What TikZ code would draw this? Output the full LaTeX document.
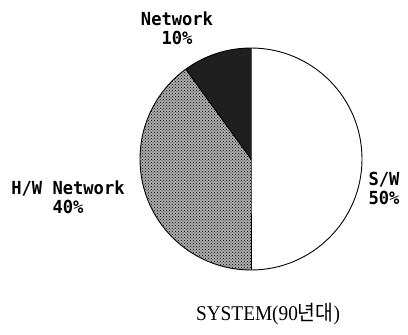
\documentclass[tikz,border=0pt]{standalone}
\usepackage{fontspec}
\setmainfont{Liberation Serif}
\newfontfamily\labelfont{DejaVu Sans Mono}
\newfontfamily\krfont{Noto Sans CJK KR}
\usetikzlibrary{patterns}
\tikzset{
  slicelabel/.style={font=\labelfont\bfseries\fontsize{18}{21}\selectfont, align=center, inner sep=0pt},
  titlelabel/.style={font=\fontsize{21}{25}\selectfont, inner sep=0pt},
  edge/.style={line width=0.9pt, black},
}
\begin{document}
\begin{tikzpicture}[x=1pt,y=-1pt]
\useasboundingbox (0,0) rectangle (408,335);
\coordinate (c) at (251,159);
\def\R{111}
% H/W Network slice, 40 percent (y axis points down, so angles are mirrored)
\fill[gray!65] (c) -- ++(-126:\R) arc[start angle=-126, end angle=-270, radius=\R] -- cycle;
\fill[pattern=crosshatch dots, pattern color=black] (c) -- ++(-126:\R) arc[start angle=-126, end angle=-270, radius=\R] -- cycle;
% Network slice, 10 percent
\fill[black!88] (c) -- ++(-90:\R) arc[start angle=-90, end angle=-126, radius=\R] -- cycle;
% outline and separators
\draw[edge] (c) circle[radius=\R];
\draw[edge] (c) ++(-90:\R) coordinate (top) -- (c) -- ++(90:\R) coordinate (bottom);
\draw[edge] (c) -- ++(-126:\R) coordinate (sep);
% labels
\node[slicelabel] (lnet) at (177,28) {\scalebox{0.95}[1]{Network}\\[-2pt]\scalebox{0.95}[1]{10\%}};
\node[slicelabel] (lhw) at (68,197) {\scalebox{0.95}[1]{H/W Network}\\[-2pt]\scalebox{0.95}[1]{40\%}};
\node[slicelabel] (lsw) at (384,188) {\scalebox{0.95}[1]{S/W}\\[-2pt]\scalebox{0.95}[1]{50\%}};
\node[titlelabel] (title) at (268,314) {\scalebox{0.92}[1]{SYSTEM(90{\krfont 년대})}};
\end{tikzpicture}
\end{document}
